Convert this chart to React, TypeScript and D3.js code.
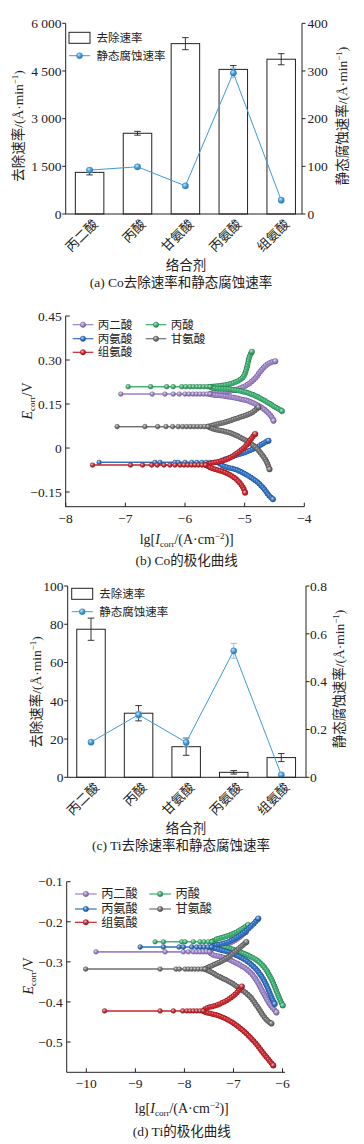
import React from "react";
import * as d3 from "d3";

type Pt = [number, number];

// ---------- (a) / (c) bar + line panels ----------
const AGENTS = ["丙二酸", "丙酸", "甘氨酸", "丙氨酸", "组氨酸"];

const CO_REMOVAL = [1310, 2540, 5360, 4550, 4870];
const CO_REMOVAL_ERR = [80, 60, 190, 120, 175];
const CO_STATIC = [92, 99, 59, 296, 29];
const CO_STATIC_ERR = [4, 4, 3, 10, 3];
const CO_LEFT_TICKS = [0, 1500, 3000, 4500, 6000];
const CO_RIGHT_TICKS = [0, 100, 200, 300, 400];

const TI_REMOVAL = [77.4, 33.5, 16.0, 2.6, 10.3];
const TI_REMOVAL_ERR = [5.8, 4.0, 4.5, 0.9, 2.1];
const TI_STATIC = [0.147, 0.262, 0.146, 0.529, 0.01];
const TI_STATIC_ERR = [0.006, 0.014, 0.016, 0.031, 0.004];
const TI_LEFT_TICKS = [0, 20, 40, 60, 80, 100];
const TI_RIGHT_TICKS = [0, 0.2, 0.4, 0.6, 0.8];

// ---------- (b) / (d) polarization curves ----------
const TAFEL_NAMES = ["丙二酸", "丙酸", "丙氨酸", "甘氨酸", "组氨酸"];
const TAFEL_COLORS = ["#9b80c6", "#3aad6e", "#2f70c2", "#707070", "#c8242c"];

const CO_X_TICKS = [-8, -7, -6, -5, -4];
const CO_Y_TICKS = [-0.15, 0, 0.15, 0.3, 0.45];
const CO_ECORR = [0.184, 0.209, -0.049, 0.073, -0.058];

const CO_MALONIC_DIP = [-7.076, -6.55, -6.336, -6.197, -6.096, -6.0, -5.933, -5.866, -5.807, -5.748, -5.689, -5.63, -5.58];
const CO_MALONIC_UP: Pt[] = [[-5.529, 0.1876], [-5.412, 0.1886], [-5.244, 0.1944], [-5.076, 0.2036], [-4.936, 0.2183], [-4.823, 0.2377], [-4.739, 0.2602], [-4.655, 0.2796], [-4.571, 0.2908], [-4.487, 0.2956]];
const CO_MALONIC_DOWN: Pt[] = [[-5.529, 0.1808], [-5.412, 0.1791], [-5.131, 0.1695], [-4.907, 0.1579], [-4.739, 0.1409], [-4.627, 0.1239], [-4.543, 0.1048], [-4.516, 0.0932]];

const CO_PROPIONIC_DIP = [-6.953, -6.576, -6.308, -6.197, -6.055, -5.988, -5.916, -5.86, -5.798, -5.748, -5.689, -5.63, -5.58];
const CO_PROPIONIC_UP: Pt[] = [[-5.529, 0.21], [-5.412, 0.2125], [-5.244, 0.2183], [-5.104, 0.2295], [-5.02, 0.2431], [-4.975, 0.266], [-4.946, 0.2888], [-4.919, 0.3113], [-4.879, 0.3283]];
const CO_PROPIONIC_DOWN: Pt[] = [[-5.529, 0.2046], [-5.244, 0.2002], [-5.02, 0.192], [-4.852, 0.1808], [-4.684, 0.1637], [-4.543, 0.1467], [-4.459, 0.1365], [-4.375, 0.1262]];

const CO_ALANINE_DIP = [-7.44, -6.504, -6.42, -6.168, -6.113, -6.0, -5.887, -5.803, -5.719, -5.647, -5.58, -5.513, -5.445];
const CO_ALANINE_UP: Pt[] = [[-5.356, -0.0408], [-5.131, -0.0237], [-4.963, -0.0125], [-4.795, 0.0025], [-4.684, 0.0162], [-4.6, 0.025]];
const CO_ALANINE_DOWN: Pt[] = [[-5.356, -0.0612], [-5.131, -0.0748], [-4.963, -0.0919], [-4.795, -0.1147], [-4.684, -0.1372], [-4.6, -0.16], [-4.526, -0.1747]];

const CO_GLYCINE_DIP = [-7.138, -6.672, -6.459, -6.319, -6.207, -6.113, -6.039, -5.971, -5.908, -5.849, -5.79, -5.731, -5.672, -5.613];
const CO_GLYCINE_UP: Pt[] = [[-5.546, 0.0768], [-5.299, 0.0898], [-5.131, 0.1014], [-4.963, 0.1126], [-4.852, 0.1239], [-4.768, 0.1389]];
const CO_GLYCINE_DOWN: Pt[] = [[-5.546, 0.0666], [-5.244, 0.0513], [-4.992, 0.0274], [-4.823, 0.0036], [-4.706, -0.0237], [-4.63, -0.0476], [-4.583, -0.0724]];

const CO_HISTIDINE_DIP = [-7.551, -6.913, -6.711, -6.56, -6.466, -6.353, -6.252, -6.168, -6.084, -6.017, -5.955, -5.891, -5.832, -5.773, -5.714, -5.655];
const CO_HISTIDINE_UP: Pt[] = [[-5.58, -0.0527], [-5.299, -0.0384], [-5.131, -0.0179], [-4.992, 0.0046], [-4.907, 0.0274], [-4.823, 0.0479]];
const CO_HISTIDINE_DOWN: Pt[] = [[-5.58, -0.0663], [-5.299, -0.0861], [-5.16, -0.1031], [-5.076, -0.1202], [-5.02, -0.1372], [-4.992, -0.1522]];

const TI_X_TICKS = [-10, -9, -8, -7, -6];
const TI_Y_TICKS = [-0.5, -0.4, -0.3, -0.2, -0.1];
const TI_ECORR = [-0.275, -0.25, -0.263, -0.318, -0.4225];

const TI_MALONIC_DIP = [-9.803, -8.394, -8.022, -7.921, -7.819, -7.75, -7.683, -7.616, -7.551, -7.49];
const TI_MALONIC_UP: Pt[] = [[-7.439, -0.2678], [-7.236, -0.2616], [-7.033, -0.2504], [-6.87, -0.2379], [-6.748, -0.2254]];
const TI_MALONIC_DOWN: Pt[] = [[-7.439, -0.2816], [-7.175, -0.2903], [-6.87, -0.3078], [-6.667, -0.3252], [-6.524, -0.3477], [-6.402, -0.3751], [-6.301, -0.3975], [-6.22, -0.4125], [-6.124, -0.4262]];

const TI_PROPIONIC_DIP = [-8.598, -8.429, -8.055, -7.988, -7.819, -7.683, -7.602, -7.514, -7.439];
const TI_PROPIONIC_UP: Pt[] = [[-7.358, -0.2442], [-7.154, -0.2367], [-6.951, -0.2267], [-6.809, -0.2167], [-6.701, -0.208]];
const TI_PROPIONIC_DOWN: Pt[] = [[-7.358, -0.2591], [-7.073, -0.2666], [-6.768, -0.2803], [-6.531, -0.2953], [-6.362, -0.3152], [-6.24, -0.3402], [-6.148, -0.3651], [-6.077, -0.3876], [-5.996, -0.4088]];

const TI_ALANINE_DIP = [-8.902, -8.429, -8.11, -8.022, -7.852, -7.75, -7.673, -7.602, -7.52, -7.449];
const TI_ALANINE_UP: Pt[] = [[-7.378, -0.2591], [-7.134, -0.2516], [-6.911, -0.2379], [-6.734, -0.2217], [-6.626, -0.2092], [-6.545, -0.1993], [-6.494, -0.1918]];
const TI_ALANINE_DOWN: Pt[] = [[-7.378, -0.2666], [-7.114, -0.2753], [-6.829, -0.2903], [-6.626, -0.3078], [-6.463, -0.3302], [-6.341, -0.3551], [-6.26, -0.3776], [-6.199, -0.395], [-6.159, -0.405]];

const TI_GLYCINE_DIP = [-10.014, -8.496, -8.171, -8.104, -7.988, -7.921, -7.852, -7.785, -7.718, -7.648, -7.581];
const TI_GLYCINE_UP: Pt[] = [[-7.52, -0.314], [-7.317, -0.3028], [-7.114, -0.289], [-6.951, -0.2728], [-6.829, -0.2604], [-6.738, -0.2504]];
const TI_GLYCINE_DOWN: Pt[] = [[-7.52, -0.3215], [-7.276, -0.3377], [-7.073, -0.3501], [-6.87, -0.3664], [-6.667, -0.3863], [-6.524, -0.41], [-6.402, -0.4325], [-6.311, -0.4462], [-6.226, -0.4537]];

const TI_HISTIDINE_DIP = [-9.628, -8.496, -8.226, -8.035, -7.953, -7.886, -7.819, -7.75, -7.683, -7.616];
const TI_HISTIDINE_UP: Pt[] = [[-7.561, -0.4162], [-7.358, -0.4088], [-7.154, -0.3975], [-6.992, -0.3838], [-6.89, -0.3713], [-6.829, -0.3614]];
const TI_HISTIDINE_DOWN: Pt[] = [[-7.561, -0.4262], [-7.317, -0.4337], [-7.073, -0.4474], [-6.87, -0.4649], [-6.667, -0.4873], [-6.504, -0.5098], [-6.382, -0.5297], [-6.28, -0.5447], [-6.189, -0.5584]];

const CO_SERIES = [
  { dip: CO_MALONIC_DIP, up: CO_MALONIC_UP, down: CO_MALONIC_DOWN },
  { dip: CO_PROPIONIC_DIP, up: CO_PROPIONIC_UP, down: CO_PROPIONIC_DOWN },
  { dip: CO_ALANINE_DIP, up: CO_ALANINE_UP, down: CO_ALANINE_DOWN },
  { dip: CO_GLYCINE_DIP, up: CO_GLYCINE_UP, down: CO_GLYCINE_DOWN },
  { dip: CO_HISTIDINE_DIP, up: CO_HISTIDINE_UP, down: CO_HISTIDINE_DOWN },
];
const TI_SERIES = [
  { dip: TI_MALONIC_DIP, up: TI_MALONIC_UP, down: TI_MALONIC_DOWN },
  { dip: TI_PROPIONIC_DIP, up: TI_PROPIONIC_UP, down: TI_PROPIONIC_DOWN },
  { dip: TI_ALANINE_DIP, up: TI_ALANINE_UP, down: TI_ALANINE_DOWN },
  { dip: TI_GLYCINE_DIP, up: TI_GLYCINE_UP, down: TI_GLYCINE_DOWN },
  { dip: TI_HISTIDINE_DIP, up: TI_HISTIDINE_UP, down: TI_HISTIDINE_DOWN },
];

const FONT = "'Liberation Serif', 'Times New Roman', 'Noto Sans CJK SC', serif";
const LINE_BLUE = "#3d9ad8";
const INK = "#222";

const light = (c: string, t = 0.65) => d3.interpolateRgb(c, "#ffffff")(t);
const dark = (c: string) => d3.interpolateRgb(c, "#000000")(0.3);

function Defs() {
  return (
    <defs>
      {[...TAFEL_COLORS, LINE_BLUE].map((c, i) => (
        <radialGradient key={i} id={`sph${i}`} cx="0.38" cy="0.34" r="0.7">
          <stop offset="0" stopColor={light(c, 0.7)} />
          <stop offset="0.55" stopColor={c} />
          <stop offset="1" stopColor={dark(c)} />
        </radialGradient>
      ))}
    </defs>
  );
}

const sup = (s: string) => (
  <>
    <tspan dy={-5} fontSize={9}>{s}</tspan>
    <tspan dy={5}>)</tspan>
  </>
);

interface BarCfg {
  x0: number; x1: number; y0: number; y1: number; c0: number; c1: number;
  leftMax: number; rightMax: number; leftTicks: number[]; rightTicks: number[];
  fmtL: (d: number) => string; fmtR: (d: number) => string;
  removal: number[]; removalErr: number[]; stat: number[]; statErr: number[];
  legX: number; legY: number; lLabX: number; lLabY: number; rLabX: number; rLabY: number;
  lTickX: number; rTickX: number; caption: string;
}

function BarPanel({ c }: { c: BarCfg }) {
  const yL = d3.scaleLinear().domain([0, c.leftMax]).range([c.y1, c.y0]);
  const yR = d3.scaleLinear().domain([0, c.rightMax]).range([c.y1, c.y0]);
  const xp = d3.scalePoint<string>().domain(AGENTS).range([c.c0, c.c1]);
  const bw = 28.5;
  const line = d3.line<number>().x((_, i) => xp(AGENTS[i])!).y((d) => yR(d));
  const fs = 13.5;
  return (
    <g fontFamily={FONT} fill={INK}>
      {/* bars */}
      {c.removal.map((v, i) => {
        const cx = xp(AGENTS[i])!;
        return (
          <rect key={i} x={cx - bw / 2} y={yL(v)} width={bw} height={c.y1 - yL(v)}
            fill="#fff" stroke={INK} strokeWidth={1} />
        );
      })}
      {c.removal.map((v, i) => {
        const cx = xp(AGENTS[i])!;
        const a = yL(v - c.removalErr[i]), b = yL(v + c.removalErr[i]);
        return (
          <g key={i} stroke={INK} strokeWidth={0.9}>
            <line x1={cx} x2={cx} y1={a} y2={b} />
            <line x1={cx - 3.3} x2={cx + 3.3} y1={a} y2={a} />
            <line x1={cx - 3.3} x2={cx + 3.3} y1={b} y2={b} />
          </g>
        );
      })}
      {/* static corrosion line */}
      <path d={line(c.stat)!} fill="none" stroke={LINE_BLUE} strokeWidth={1} />
      {c.stat.map((v, i) => {
        const cx = xp(AGENTS[i])!;
        const a = yR(v - c.statErr[i]), b = yR(v + c.statErr[i]);
        return (
          <g key={i} stroke="#8fb8d6" strokeWidth={0.9}>
            <line x1={cx} x2={cx} y1={a} y2={b} />
            <line x1={cx - 3} x2={cx + 3} y1={a} y2={a} />
            <line x1={cx - 3} x2={cx + 3} y1={b} y2={b} />
          </g>
        );
      })}
      {c.stat.map((v, i) => (
        <circle key={i} cx={xp(AGENTS[i])!} cy={yR(v)} r={3.1} fill="url(#sph5)" stroke="#2a7fc0" strokeWidth={0.4} />
      ))}
      {/* axes */}
      <g stroke={INK} strokeWidth={1} fill="none">
        <line x1={c.x0} x2={c.x0} y1={c.y0} y2={c.y1} />
        <line x1={c.x1} x2={c.x1} y1={c.y0} y2={c.y1} />
        <line x1={c.x0} x2={c.x1} y1={c.y1} y2={c.y1} />
        {c.leftTicks.map((t) => <line key={t} x1={c.x0 - 3.5} x2={c.x0} y1={yL(t)} y2={yL(t)} />)}
        {c.rightTicks.map((t) => <line key={t} x1={c.x1} x2={c.x1 + 3.5} y1={yR(t)} y2={yR(t)} />)}
      </g>
      {c.leftTicks.map((t) => (
        <text key={t} x={c.lTickX} y={yL(t)} dy="0.35em" textAnchor="end" fontSize={fs}>{c.fmtL(t)}</text>
      ))}
      {c.rightTicks.map((t) => (
        <text key={t} x={c.rTickX} y={yR(t)} dy="0.35em" textAnchor="start" fontSize={fs}>{c.fmtR(t)}</text>
      ))}
      {AGENTS.map((a) => (
        <text key={a} transform={`translate(${xp(a)! + 9},${c.y1 + 11}) rotate(-45)`} textAnchor="end" fontSize={13}>{a}</text>
      ))}
      <text transform={`translate(${c.lLabX},${c.lLabY}) rotate(-90)`} dy="0.35em" textAnchor="middle" fontSize={13.5}>
        去除速率/(Å·min{sup("−1")}
      </text>
      <text transform={`translate(${c.rLabX},${c.rLabY}) rotate(-90)`} dy="0.35em" textAnchor="middle" fontSize={13.5}>
        静态腐蚀速率/(Å·min{sup("−1")}
      </text>
      {/* legend */}
      <rect x={c.legX} y={c.legY} width={21} height={11} fill="#fff" stroke={INK} strokeWidth={1} />
      <text x={c.legX + 27.5} y={c.legY + 5.5} dy="0.36em" fontSize={11.5}>去除速率</text>
      <line x1={c.legX} x2={c.legX + 21} y1={c.legY + 23.4} y2={c.legY + 23.4} stroke={LINE_BLUE} strokeWidth={1} />
      <circle cx={c.legX + 10.5} cy={c.legY + 23.4} r={3} fill="url(#sph5)" stroke="#2a7fc0" strokeWidth={0.4} />
      <text x={c.legX + 27.5} y={c.legY + 23.4} dy="0.36em" fontSize={11.5}>静态腐蚀速率</text>
      {/* titles */}
      <text x={186} y={c.y1 + 56} textAnchor="middle" fontSize={13.5}>络合剂</text>
      <text x={181} y={c.y1 + 73} textAnchor="middle" fontSize={13.5}>{c.caption}</text>
    </g>
  );
}

interface TafelCfg {
  x0: number; x1: number; y0: number; y1: number;
  xDomain: [number, number]; yDomain: [number, number];
  xTicks: number[]; yTicks: number[]; fmtY: (d: number) => string;
  ecorr: number[]; series: { dip: number[]; up: Pt[]; down: Pt[] }[];
  legCols: number[]; legRows: number[]; legW: number; legFs: number;
  yLabX: number; yLabY: number; xLabX: number; xLabY: number; capY: number; caption: string;
}

const fmtMinus = (d: number) => (d < 0 ? "−" : "") + Math.abs(d);

function TafelPanel({ c }: { c: TafelCfg }) {
  const x = d3.scaleLinear().domain(c.xDomain).range([c.x0, c.x1]);
  const y = d3.scaleLinear().domain(c.yDomain).range([c.y1, c.y0]);
  const lin = d3.line<Pt>().x((d) => x(d[0])).y((d) => y(d[1]));
  const smooth = d3.line<Pt>().x((d) => x(d[0])).y((d) => y(d[1])).curve(d3.curveCatmullRom.alpha(0.5));
  const fs = 13.5;
  return (
    <g fontFamily={FONT} fill={INK}>
      {c.series.map((s, i) => {
        const col = TAFEL_COLORS[i];
        const e0 = c.ecorr[i];
        const dip: Pt[] = s.dip.map((v) => [v, e0]);
        const last = dip[dip.length - 1];
        const branches = [[last, ...s.up], [last, ...s.down]] as Pt[][];
        return (
          <g key={i}>
            <path d={lin([...dip, ...s.up])!} fill="none" stroke={col} strokeWidth={1.1} />
            <path d={lin([...dip, ...s.down])!} fill="none" stroke={col} strokeWidth={1.1} />
            {branches.map((b, k) => {
              const d = smooth(b)!;
              return (
                <g key={k} fill="none" strokeLinecap="round" strokeDasharray="0 2.6">
                  <path d={d} stroke={dark(col)} strokeWidth={5.5} />
                  <path d={d} stroke={col} strokeWidth={4.5} />
                  <path d={d} stroke="#fff" strokeOpacity={0.4} strokeWidth={1.5} transform="translate(-0.7,-0.8)" />
                </g>
              );
            })}
            {dip.map((p, k) => (
              <circle key={k} cx={x(p[0])} cy={y(p[1])} r={2.4} fill={`url(#sph${i})`} stroke={dark(col)} strokeWidth={0.4} />
            ))}
            {[s.up[s.up.length - 1], s.down[s.down.length - 1]].map((p, k) => (
              <circle key={k} cx={x(p[0])} cy={y(p[1])} r={2.8} fill={`url(#sph${i})`} stroke={dark(col)} strokeWidth={0.4} />
            ))}
          </g>
        );
      })}
      {/* axes */}
      <g stroke={INK} strokeWidth={1} fill="none">
        <line x1={c.x0} x2={c.x0} y1={c.y0} y2={c.y1} />
        <line x1={c.x0} x2={c.x1} y1={c.y1} y2={c.y1} />
        {c.yTicks.map((t) => <line key={t} x1={c.x0} x2={c.x0 + 4} y1={y(t)} y2={y(t)} />)}
        {c.xTicks.map((t) => <line key={t} x1={x(t)} x2={x(t)} y1={c.y1} y2={c.y1 - 4} />)}
      </g>
      {c.yTicks.map((t) => (
        <text key={t} x={c.x0 - 4} y={y(t)} dy="0.35em" textAnchor="end" fontSize={fs}>{c.fmtY(t)}</text>
      ))}
      {c.xTicks.map((t) => (
        <text key={t} x={x(t)} y={c.y1 + 16} textAnchor="middle" fontSize={fs}>{fmtMinus(t)}</text>
      ))}
      {/* legend */}
      {TAFEL_NAMES.map((n, i) => {
        const lx = c.legCols[i % 2], ly = c.legRows[Math.floor(i / 2)];
        const col = TAFEL_COLORS[i];
        return (
          <g key={n}>
            <line x1={lx} x2={lx + c.legW} y1={ly} y2={ly} stroke={col} strokeWidth={1.2} />
            <circle cx={lx + c.legW / 2} cy={ly} r={2.7} fill={`url(#sph${i})`} stroke={dark(col)} strokeWidth={0.4} />
            <text x={lx + c.legW + 4.5} y={ly} dy="0.36em" fontSize={c.legFs}>{n}</text>
          </g>
        );
      })}
      <text transform={`translate(${c.yLabX},${c.yLabY}) rotate(-90)`} dy="0.35em" textAnchor="middle" fontSize={14}>
        <tspan fontStyle="italic">E</tspan>
        <tspan dy={3} fontSize={9}>corr</tspan>
        <tspan dy={-3}>/V</tspan>
      </text>
      <text x={c.xLabX} y={c.xLabY} textAnchor="middle" fontSize={14}>
        lg[<tspan fontStyle="italic">I</tspan>
        <tspan dy={3} fontSize={9}>corr</tspan>
        <tspan dy={-3}>/(A·cm</tspan>
        <tspan dy={-5} fontSize={9}>−2</tspan>
        <tspan dy={5}>)]</tspan>
      </text>
      <text x={c.xLabX} y={c.capY} textAnchor="middle" fontSize={13.5}>{c.caption}</text>
    </g>
  );
}

const panelA: BarCfg = {
  x0: 65.7, x1: 302, y0: 23.3, y1: 214, c0: 89.6, c1: 281.2,
  leftMax: 6000, rightMax: 400, leftTicks: CO_LEFT_TICKS, rightTicks: CO_RIGHT_TICKS,
  fmtL: (d) => d3.format(",")(d).replace(",", " "), fmtR: (d) => String(d),
  removal: CO_REMOVAL, removalErr: CO_REMOVAL_ERR, stat: CO_STATIC, statErr: CO_STATIC_ERR,
  legX: 69, legY: 32.3, lLabX: 18.3, lLabY: 126, rLabX: 342.5, rLabY: 116,
  lTickX: 61.5, rTickX: 307.5, caption: "(a) Co去除速率和静态腐蚀速率",
};

const panelC: BarCfg = {
  x0: 67.7, x1: 306, y0: 586, y1: 777.3, c0: 91, c1: 281.3,
  leftMax: 100, rightMax: 0.8, leftTicks: TI_LEFT_TICKS, rightTicks: TI_RIGHT_TICKS,
  fmtL: (d) => String(d), fmtR: (d) => (d === 0 ? "0" : d.toFixed(1)),
  removal: TI_REMOVAL, removalErr: TI_REMOVAL_ERR, stat: TI_STATIC, statErr: TI_STATIC_ERR,
  legX: 71.7, legY: 588.3, lLabX: 36.7, lLabY: 692, rLabX: 339, rLabY: 679,
  lTickX: 63.5, rTickX: 310, caption: "(c) Ti去除速率和静态腐蚀速率",
};

const panelB: TafelCfg = {
  x0: 65.7, x1: 304.3, y0: 316, y1: 506.7,
  xDomain: [-8, -4], yDomain: [-0.2, 0.45], xTicks: CO_X_TICKS, yTicks: CO_Y_TICKS,
  fmtY: (d) => (d === 0 ? "0" : (d < 0 ? "−" : "") + Math.abs(d).toFixed(2)),
  ecorr: CO_ECORR, series: CO_SERIES,
  legCols: [72.7, 145.7], legRows: [324.7, 338.7, 352.3], legW: 20.6, legFs: 11.5,
  yLabX: 26.7, yLabY: 401, xLabX: 186.7, xLabY: 544, capY: 565, caption: "(b) Co的极化曲线",
};

const panelD: TafelCfg = {
  x0: 66.7, x1: 285, y0: 881.7, y1: 1072.3,
  xDomain: [-10.4, -5.95], yDomain: [-0.5756, -0.1], xTicks: TI_X_TICKS, yTicks: TI_Y_TICKS,
  fmtY: (d) => "−" + Math.abs(d).toFixed(1),
  ecorr: TI_ECORR, series: TI_SERIES,
  legCols: [75, 149.3], legRows: [894, 909, 922.3], legW: 21.7, legFs: 12.2,
  yLabX: 28.3, yLabY: 976, xLabX: 181.7, xLabY: 1113, capY: 1136, caption: "(d) Ti的极化曲线",
};

export default function App() {
  return (
    <svg width={364} height={1144} viewBox="0 0 364 1144"
      style={{ position: "absolute", left: 0, top: 0, display: "block", background: "#fff" }}>
      <Defs />
      <rect width={364} height={1144} fill="#fff" />
      <BarPanel c={panelA} />
      <TafelPanel c={panelB} />
      <BarPanel c={panelC} />
      <TafelPanel c={panelD} />
    </svg>
  );
}
